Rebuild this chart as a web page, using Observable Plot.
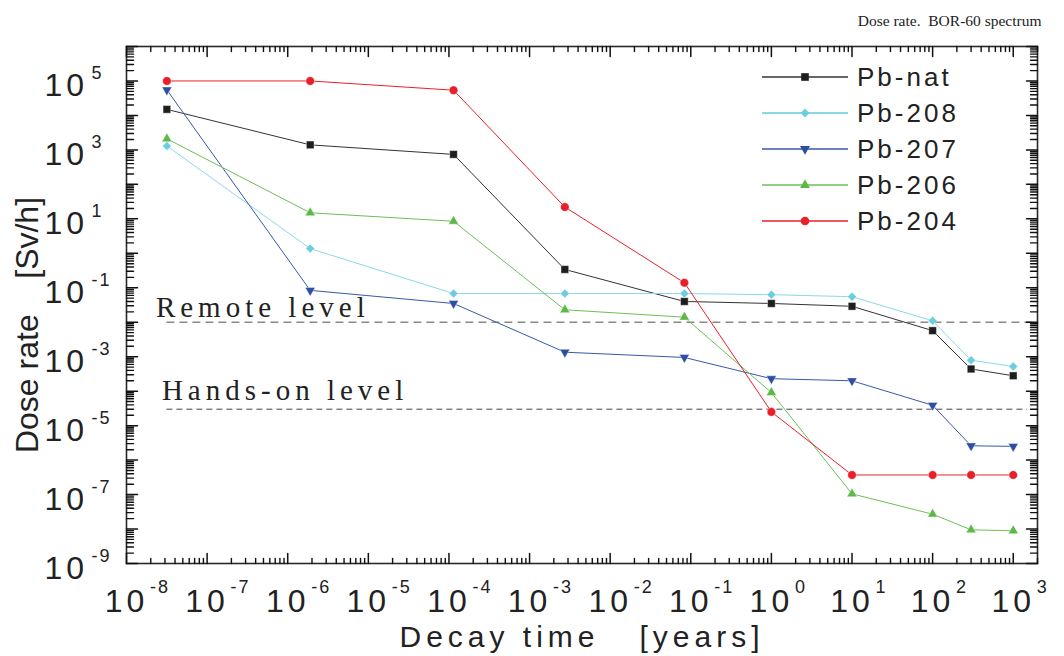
<!DOCTYPE html>
<html>
<head>
<meta charset="utf-8">
<script src="https://cdn.jsdelivr.net/npm/d3@7"></script>
<script src="https://cdn.jsdelivr.net/npm/@observablehq/plot@0.6"></script>
<style>
  html, body { margin: 0; padding: 0; background: #fff; }
  #chart { position: relative; width: 1064px; height: 656px; }
</style>
</head>
<body>
<div id="chart"></div>
<script>
// ---- data ----
const decayTimes = [3.17e-8, 1.9e-6, 1.14e-4, 2.74e-3, 8.33e-2, 1, 10, 100, 300, 1000]; // years: 1 s, 1 min, 1 h, 1 d, 1 mo, 1, 10, 100, 300, 1000 y
const seriesNames = ["Pb-nat", "Pb-208", "Pb-207", "Pb-206", "Pb-204"];
const pbNat = [1.5e4, 1.4e3, 7.4e2, 0.34, 0.040, 0.035, 0.029, 5.7e-3, 4.4e-4, 2.8e-4];
const pb208 = [1.3e3, 1.37, 0.068, 0.068, 0.068, 0.063, 0.055, 0.011, 7.9e-4, 5.2e-4];
const pb207 = [5.5e4, 0.084, 0.035, 1.35e-3, 9.5e-4, 2.3e-4, 2.0e-4, 3.9e-5, 2.6e-6, 2.5e-6];
const pb206 = [2.1e3, 15, 8.5, 0.023, 0.014, 9.1e-5, 1.05e-7, 2.7e-8, 9.5e-9, 8.9e-9];
const pb204 = [1.0e5, 1.0e5, 5.4e4, 22, 0.14, 2.5e-5, 3.7e-7, 3.7e-7, 3.7e-7, 3.7e-7];
const seriesValues = [pbNat, pb208, pb207, pb206, pb204];
const levelNames = ["Remote level", "Hands-on level"];
const levelValues = [1e-2, 3e-5];
const levelEnds = [1.8e3, 1.5e3];
const xTickExps = [-8, -7, -6, -5, -4, -3, -2, -1, 0, 1, 2, 3];
const yTickExps = [5, 3, 1, -1, -3, -5, -7, -9];
const titleText = "Dose rate.  BOR-60 spectrum";
const xTitle = "Decay time   [years]";
const yTitle = "Dose rate    [Sv/h]";

// ---- styles ----
const colors = ["#1e1e1e", "#6ccde0", "#2c4ea3", "#5cb946", "#e8202a"];
const lineColors = ["#333333", "#8bd7e8", "#3a58a8", "#6cbf58", "#e8202a"];
const symbols = ["square", "diamond2", "triangle", "triangle", "circle"];
const rotations = [0, 0, 180, 0, 0];
const radii = [4.3, 4.0, 3.7, 3.7, 4.3];

const W = 1064, H = 656;
const mL = 126, mR = 27, mT = 46, mB = 93;

const rows = [];
seriesNames.forEach((s, i) => seriesValues[i].forEach((v, j) => rows.push({series: s, t: decayTimes[j], v})));
const levelRows = levelNames.map((n, i) => ({name: n, v: levelValues[i], t0: decayTimes[0], t1: levelEnds[i]}));

// tick positions (decades and their 2..9 subdivisions)
const majorX = d3.range(-8, 4).map(e => 10 ** e);
const minorX = [];
for (let e = -8; e <= 3; e++) for (let k = 2; k <= 9; k++) if (k * 10 ** e <= 2e3) minorX.push(k * 10 ** e);
const majorY = d3.range(-9, 7).map(e => 10 ** e);
const minorY = [];
for (let e = -9; e <= 5; e++) for (let k = 2; k <= 9; k++) minorY.push(k * 10 ** e);

const sans = "Liberation Sans, Arial, sans-serif";
const serif = "Liberation Serif, Times New Roman, serif";
const axisColor = "#111";
const nb = s => s.replace(/ /g, "\u00a0");
const tickShape = {draw(context, l) { context.moveTo(0, 0); context.lineTo(0, -l); }};

const marks = [];
// reference levels
marks.push(
  Plot.ruleY([levelRows[0]], {y: "v", x1: "t0", x2: "t1", stroke: "#8a8a8a", strokeWidth: 1.6, strokeDasharray: "8,5"}),
  Plot.ruleY([levelRows[1]], {y: "v", x1: "t0", x2: "t1", stroke: "#444", strokeWidth: 1, strokeDasharray: "6,4"}),
  Plot.text([levelRows[0]], {x: "t0", y: "v", text: "name", textAnchor: "start", lineAnchor: "bottom", dx: -11, dy: -5,
    fontFamily: serif, fontSize: 29, fill: "#222"}),
  Plot.text([levelRows[1]], {x: "t0", y: "v", text: "name", textAnchor: "start", lineAnchor: "bottom", dx: -5, dy: -9,
    fontFamily: serif, fontSize: 29, fill: "#222"})
);
// series
seriesNames.forEach((s, i) => {
  const data = rows.filter(d => d.series === s);
  marks.push(Plot.line(data, {x: "t", y: "v", stroke: lineColors[i], strokeWidth: 1}));
});
seriesNames.forEach((s, i) => {
  const data = rows.filter(d => d.series === s);
  marks.push(Plot.dot(data, {x: "t", y: "v", symbol: symbols[i], rotate: rotations[i], r: radii[i],
    fill: colors[i], stroke: "white", strokeWidth: 0.4}));
});
marks.push(Plot.frame({stroke: "#2a2a2a", strokeWidth: 1.6}));
// inward ticks on all four sides (vector marks anchored to the frame edges)
const tick = (data, ch, frameAnchor, rotate, length, w) => Plot.vector(data, {
  [ch]: d => d, frameAnchor, rotate, length, anchor: "start", shape: tickShape,
  stroke: axisColor, strokeWidth: w, fill: "none"
});
marks.push(
  tick(majorX, "x", "bottom", 0, 10, 1.5), tick(minorX, "x", "bottom", 0, 5, 1.4),
  tick(majorX, "x", "top", 180, 10, 1.5), tick(minorX, "x", "top", 180, 5, 1.4),
  tick(majorY, "y", "left", 90, 11, 1.5), tick(minorY, "y", "left", 90, 7, 1.4),
  tick(majorY, "y", "right", -90, 11, 1.5), tick(minorY, "y", "right", -90, 7, 1.4)
);

// tick labels: "10" with superscript exponent
marks.push(
  Plot.text(xTickExps, {x: e => 10 ** e, frameAnchor: "bottom", text: () => "10", textAnchor: "middle", lineAnchor: "bottom",
    dx: 0, dy: 48, fontFamily: sans, fontSize: 32, fill: "#222"}),
  Plot.text(xTickExps, {x: e => 10 ** e, frameAnchor: "bottom", text: e => String(e), textAnchor: "start", lineAnchor: "bottom",
    dx: 23.5, dy: 29, fontFamily: sans, fontSize: 18, fill: "#222"}),
  Plot.text(yTickExps, {y: e => 10 ** e, frameAnchor: "left", text: () => "10", textAnchor: "start", lineAnchor: "bottom",
    dx: -82, dy: 15, fontFamily: sans, fontSize: 32, fill: "#222"}),
  Plot.text(yTickExps, {y: e => 10 ** e, frameAnchor: "left", text: e => String(e), textAnchor: "start", lineAnchor: "bottom",
    dx: -35, dy: -2, fontFamily: sans, fontSize: 18, fill: "#222"})
);
// axis titles and chart title
marks.push(
  Plot.text([nb(xTitle)], {frameAnchor: "bottom", text: d => d, textAnchor: "middle", lineAnchor: "bottom",
    dy: 83, fontFamily: sans, fontSize: 30, fill: "#222"}),
  Plot.text([nb(yTitle)], {frameAnchor: "left", text: d => d, rotate: -90, textAnchor: "middle", lineAnchor: "bottom",
    dx: -89, dy: 20, fontFamily: sans, fontSize: 32, fill: "#222"}),
  Plot.text([nb(titleText)], {frameAnchor: "top-right", text: d => d, textAnchor: "end", lineAnchor: "bottom",
    dx: 4, dy: -21, fontFamily: serif, fontSize: 15.5, fill: "#222"})
);
// legend (inside the frame, top right)
marks.push((index, scales, values, dims) => {
  const g = d3.create("svg:g").attr("aria-label", "legend");
  const x0 = dims.marginLeft + 636, rowH = 36, y0 = dims.marginTop + 31;
  seriesNames.forEach((s, i) => {
    const y = y0 + i * rowH;
    g.append("line").attr("x1", x0).attr("x2", x0 + 86).attr("y1", y).attr("y2", y)
      .attr("stroke", lineColors[i]).attr("stroke-width", i === 1 ? 2 : 1.4);
    const sym = {square: d3.symbolSquare, diamond2: d3.symbolDiamond2, triangle: d3.symbolTriangle, circle: d3.symbolCircle}[symbols[i]];
    g.append("path").attr("d", d3.symbol(sym, Math.PI * radii[i] * radii[i])())
      .attr("transform", `translate(${x0 + 43},${y}) rotate(${rotations[i]})`)
      .attr("fill", colors[i]);
    g.append("text").attr("x", x0 + 95).attr("y", y).attr("dy", "0.36em")
      .attr("text-anchor", "start")
      .attr("font-family", sans).attr("font-size", 26).attr("letter-spacing", "3px")
      .attr("fill", "#222").text(s);
  });
  return g.node();
});

const chart = Plot.plot({
  width: W, height: H,
  marginLeft: mL, marginRight: mR, marginTop: mT, marginBottom: mB,
  x: {type: "log", domain: [1e-8, 2e3], axis: null},
  y: {type: "log", domain: [1e-9, 1e6], axis: null},
  style: {background: "white", overflow: "visible"},
  marks
});
// letter spacing as in the reference
d3.select(chart).selectAll("text").each(function () {
  const t = this.textContent;
  let ls = null;
  if (t === "10") ls = "4px";
  else if (/^-?\d$/.test(t)) ls = "2px";
  else if (t === nb(xTitle)) ls = "5px";
  else if (levelNames.includes(t)) ls = "5px";
  if (ls) this.setAttribute("letter-spacing", ls);
});
document.getElementById("chart").appendChild(chart);
</script>
</body>
</html>
